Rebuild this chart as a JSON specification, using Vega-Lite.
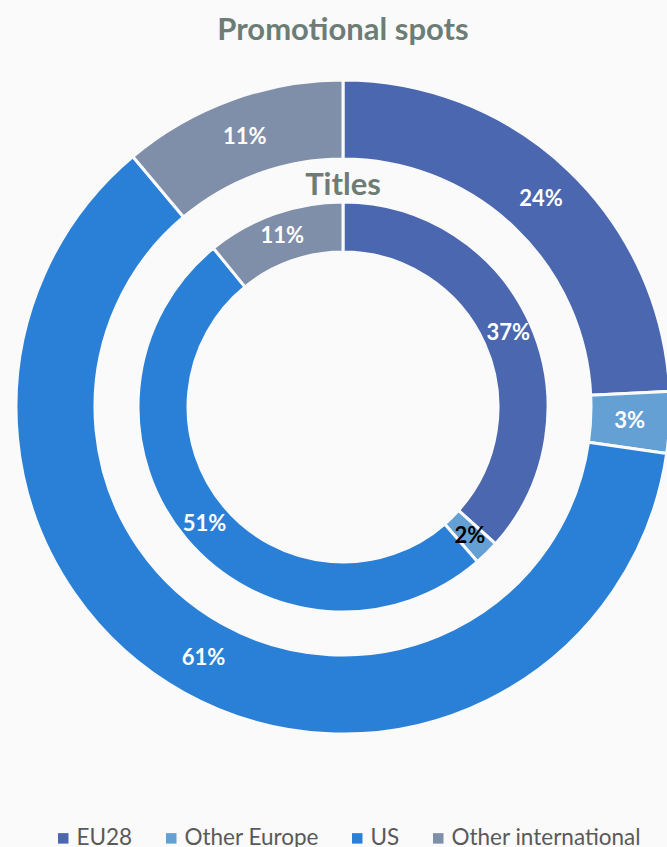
{
  "$schema": "https://vega.github.io/schema/vega-lite/v6.json",
  "width": 648,
  "height": 654,
  "autosize": {"type": "none"},
  "padding": {"left": 19, "right": 0, "top": 80, "bottom": 113},
  "background": "#fafafa",
  "title": {
    "text": "Promotional spots",
    "font": "Lato",
    "fontSize": 31,
    "fontWeight": "bold",
    "color": "#6d7d75",
    "anchor": "middle",
    "offset": 27
  },
  "data": {
    "values": [
      {"ring": "Promotional spots", "cat": "EU28", "idx": 1, "value": 24},
      {"ring": "Promotional spots", "cat": "Other Europe", "idx": 2, "value": 3},
      {"ring": "Promotional spots", "cat": "US", "idx": 3, "value": 61},
      {"ring": "Promotional spots", "cat": "Other international", "idx": 4, "value": 11},
      {"ring": "Titles", "cat": "EU28", "idx": 1, "value": 37},
      {"ring": "Titles", "cat": "Other Europe", "idx": 2, "value": 2},
      {"ring": "Titles", "cat": "US", "idx": 3, "value": 51},
      {"ring": "Titles", "cat": "Other international", "idx": 4, "value": 11}
    ]
  },
  "transform": [{"calculate": "datum.value + '%'", "as": "label"}],
  "layer": [
    {
      "transform": [{"filter": "datum.ring === 'Promotional spots'"}],
      "layer": [
        {
          "mark": {"type": "arc", "radius": 327, "radius2": 248, "stroke": "#fafafa", "strokeWidth": 3},
          "encoding": {
            "theta": {"field": "value", "type": "quantitative", "stack": true},
            "order": {"field": "idx", "type": "quantitative"},
            "color": {
              "field": "cat",
              "type": "nominal",
              "scale": {
                "domain": ["EU28", "Other Europe", "US", "Other international"],
                "range": ["#4a67b0", "#65a0d5", "#2a80d7", "#7f8ea9"]
              },
              "legend": {
                "title": null,
                "orient": "none",
                "direction": "horizontal",
                "legendX": 33,
                "legendY": 747,
                "symbolType": "square",
                "symbolSize": 110,
                "symbolStrokeWidth": 0,
                "labelFont": "Lato",
                "labelFontSize": 22.5,
                "labelLimit": 0,
                "labelColor": "#595959",
                "labelOffset": 2,
                "columnPadding": 27,
                "padding": 0
              }
            }
          }
        },
        {
          "mark": {"type": "text", "radius": 287, "font": "Lato", "fontSize": 22, "fontWeight": "bold", "fill": "white"},
          "encoding": {
            "theta": {"field": "value", "type": "quantitative", "stack": true},
            "order": {"field": "idx", "type": "quantitative"},
            "text": {"field": "label", "type": "nominal"},
            "detail": {"field": "cat"}
          }
        }
      ]
    },
    {
      "transform": [{"filter": "datum.ring === 'Titles'"}],
      "layer": [
        {
          "mark": {"type": "arc", "radius": 205, "radius2": 155, "stroke": "#fafafa", "strokeWidth": 3},
          "encoding": {
            "theta": {"field": "value", "type": "quantitative", "stack": true},
            "order": {"field": "idx", "type": "quantitative"},
            "color": {"field": "cat", "type": "nominal"}
          }
        },
        {
          "mark": {"type": "text", "radius": 181, "font": "Lato", "fontSize": 22, "fontWeight": "bold"},
          "encoding": {
            "theta": {"field": "value", "type": "quantitative", "stack": true},
            "order": {"field": "idx", "type": "quantitative"},
            "text": {"field": "label", "type": "nominal"},
            "detail": {"field": "cat"},
            "color": {"condition": {"test": "datum.cat === 'Other Europe'", "value": "#000000"}, "value": "#ffffff"}
          }
        }
      ]
    },
    {
      "transform": [
        {"filter": "datum.ring === 'Titles'"},
        {"aggregate": [{"op": "count", "as": "n"}], "groupby": ["ring"]}
      ],
      "mark": {"type": "text", "radius": 212, "theta": 0, "baseline": "alphabetic", "font": "Lato", "fontSize": 31, "fontWeight": "bold", "fill": "#6d7d75"},
      "encoding": {
        "text": {"field": "ring"}
      }
    }
  ],
  "resolve": {"scale": {"theta": "independent"}},
  "config": {"view": {"stroke": null}}
}
